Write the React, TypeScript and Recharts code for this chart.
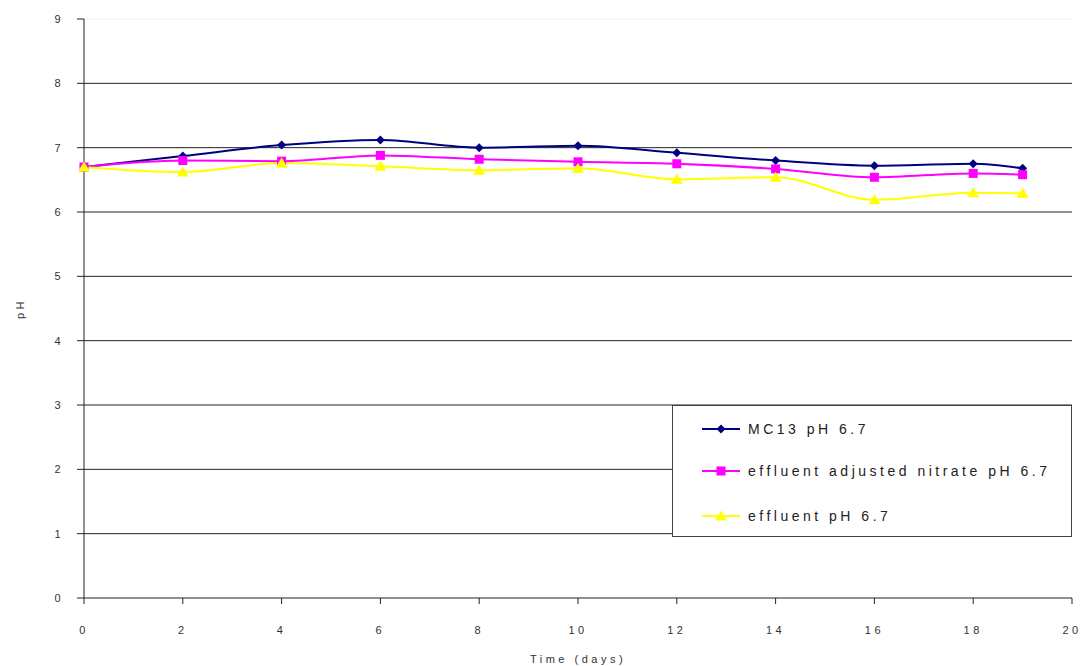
import React from 'react'
import {
  CartesianGrid,
  Line,
  LineChart,
  ReferenceLine,
  XAxis,
  YAxis
} from 'recharts'

const days = [0, 2, 4, 6, 8, 10, 12, 14, 16, 18, 19]
const mc13 = [6.7, 6.87, 7.04, 7.12, 7.0, 7.03, 6.92, 6.8, 6.72, 6.75, 6.68]
const adjustedNitrate = [6.7, 6.8, 6.79, 6.88, 6.82, 6.78, 6.75, 6.67, 6.54, 6.6, 6.58]
const effluent = [6.7, 6.62, 6.76, 6.71, 6.65, 6.68, 6.51, 6.54, 6.19, 6.3, 6.29]

const xTicks = [0, 2, 4, 6, 8, 10, 12, 14, 16, 18, 20]
const yTicks = [0, 1, 2, 3, 4, 5, 6, 7, 8, 9]
const gridValues = [1, 2, 3, 4, 5, 6, 7, 8]

const series = [
  { key: 'mc13', name: 'MC13 pH 6.7', color: '#000080', shape: 'diamond' },
  { key: 'adj', name: 'effluent adjusted nitrate pH 6.7', color: '#FF00FF', shape: 'square' },
  { key: 'eff', name: 'effluent pH 6.7', color: '#FFFF00', shape: 'triangle' }
]

const data = days.map((d, i) => ({
  day: d,
  mc13: mc13[i],
  adj: adjustedNitrate[i],
  eff: effluent[i]
}))

const font = '"Liberation Sans", Arial, sans-serif'

function Marker ({ cx, cy, shape, color }: any) {
  if (shape === 'diamond') {
    return <polygon points={`${cx},${cy - 4.5} ${cx + 4.5},${cy} ${cx},${cy + 4.5} ${cx - 4.5},${cy}`} fill={color} />
  }
  if (shape === 'square') {
    return <rect x={cx - 4.5} y={cy - 4.5} width={9} height={9} fill={color} />
  }
  return <polygon points={`${cx},${cy - 5.5} ${cx + 6},${cy + 4.5} ${cx - 6},${cy + 4.5}`} fill={color} />
}

// legend box sits over the plot, outside recharts' layout so it takes no space
function LegendBox () {
  return (
    <div style={{
      position: 'absolute',
      left: 672,
      top: 405,
      width: 398,
      height: 130,
      border: '1px solid #444',
      background: '#fff',
      fontFamily: font
    }}>
      {series.map((s, i) => (
        <div key={s.key} style={{
          position: 'absolute',
          left: 29,
          top: [23, 65, 110][i] - 9,
          height: 18,
          display: 'flex',
          alignItems: 'center'
        }}>
          <svg width={40} height={14} style={{ display: 'block' }}>
            <line x1={0} y1={7} x2={38} y2={7} stroke={s.color} strokeWidth={2} />
            <Marker cx={19} cy={7} shape={s.shape} color={s.color} />
          </svg>
          <span style={{ marginLeft: 6, fontSize: 14, letterSpacing: 3.5, color: '#222', whiteSpace: 'nowrap' }}>
            {s.name}
          </span>
        </div>
      ))}
    </div>
  )
}

const tickStyle = { fontSize: 11, fill: '#333', fontFamily: font, letterSpacing: 3.5 }

export default function App () {
  return (
    <div style={{ position: 'absolute', left: 0, top: 0, width: 1084, height: 666, background: '#fff' }}>
      <LineChart
        width={1084}
        height={666}
        data={data}
        margin={{ top: 19, right: 12, bottom: 8, left: 14 }}
      >
        <CartesianGrid horizontal vertical={false} stroke="#222" horizontalValues={gridValues} strokeOpacity={1} />
        <ReferenceLine y={9} stroke="#eee" />
        <XAxis
          dataKey="day"
          type="number"
          domain={[0, 20]}
          ticks={xTicks}
          interval={0}
          height={60}
          stroke="#222"
          tickSize={6}
          tickMargin={22}
          tick={tickStyle}
          label={{
            content: ({ viewBox }: any) => (
              <text
                x={viewBox.x + viewBox.width / 2}
                y={viewBox.y + 65}
                textAnchor="middle"
                fontSize={11}
                fill="#333"
                fontFamily={font}
                letterSpacing={3.5}
              >
                Time (days)
              </text>
            )
          }}
        />
        <YAxis
          type="number"
          domain={[0, 9]}
          ticks={yTicks}
          interval={0}
          width={70}
          stroke="#222"
          tickSize={7}
          tickMargin={13}
          tick={tickStyle}
          label={{
            content: ({ viewBox }: any) => {
              const x = viewBox.x + 6
              const y = viewBox.y + viewBox.height / 2
              return (
                <text
                  x={x}
                  y={y}
                  transform={`rotate(-90 ${x} ${y})`}
                  textAnchor="middle"
                  dominantBaseline="central"
                  fontSize={11}
                  fill="#333"
                  fontFamily={font}
                  letterSpacing={3.5}
                >
                  pH
                </text>
              )
            }
          }}
        />
        {series.map(s => (
          <Line
            key={s.key}
            dataKey={s.key}
            name={s.name}
            type="monotone"
            stroke={s.color}
            strokeWidth={2}
            dot={(p: any) => <Marker key={`${s.key}-${p.index}`} cx={p.cx} cy={p.cy} shape={s.shape} color={s.color} />}
            activeDot={false}
            isAnimationActive={false}
          />
        ))}
      </LineChart>
      <LegendBox />
    </div>
  )
}
